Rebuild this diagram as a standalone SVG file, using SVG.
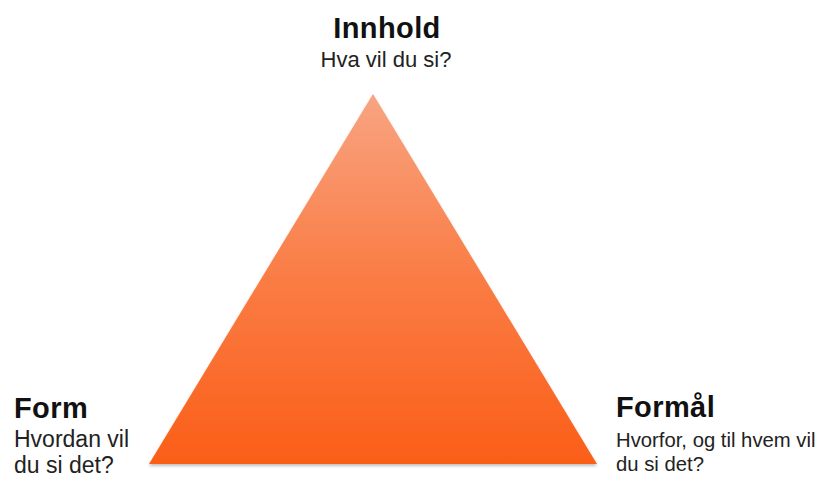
<svg xmlns="http://www.w3.org/2000/svg" width="821" height="478" viewBox="0 0 821 478">
<defs>
<linearGradient id="g" x1="0" y1="0" x2="0" y2="1">
<stop offset="0" stop-color="#f8a482"/>
<stop offset="0.5" stop-color="#fa7c44"/>
<stop offset="1" stop-color="#fb5e18"/>
</linearGradient>
<filter id="sh" x="-5%" y="-5%" width="110%" height="115%">
<feDropShadow dx="0" dy="2" stdDeviation="1.5" flood-color="#000" flood-opacity="0.25"/>
</filter>
<style>
.t{font-family:"Liberation Sans",Arial,sans-serif;fill:#111}
.h{font-weight:bold;font-size:29px;letter-spacing:0.4px}
.s{fill:#222}
</style>
</defs>
<rect width="821" height="478" fill="#fff"/>
<g id="triangle">
<polygon points="373,94 597,464 149,464" fill="url(#g)" filter="url(#sh)"/>
</g>
<g id="innhold">
<text class="t h" x="387" y="38" text-anchor="middle">Innhold</text>
<text class="t s" x="386" y="67" text-anchor="middle" font-size="22">Hva vil du si?</text>
</g>
<g id="form">
<text class="t h" x="14" y="418">Form</text>
<text class="t s" x="14" y="447" font-size="23">Hvordan vil</text>
<text class="t s" x="14" y="473" font-size="23">du si det?</text>
</g>
<g id="formal">
<text class="t h" x="616" y="417">Formål</text>
<text class="t s" x="616" y="447" font-size="20.3">Hvorfor, og til hvem vil</text>
<text class="t s" x="616" y="471" font-size="20.3">du si det?</text>
</g>
<g id="connectors"/>
</svg>
